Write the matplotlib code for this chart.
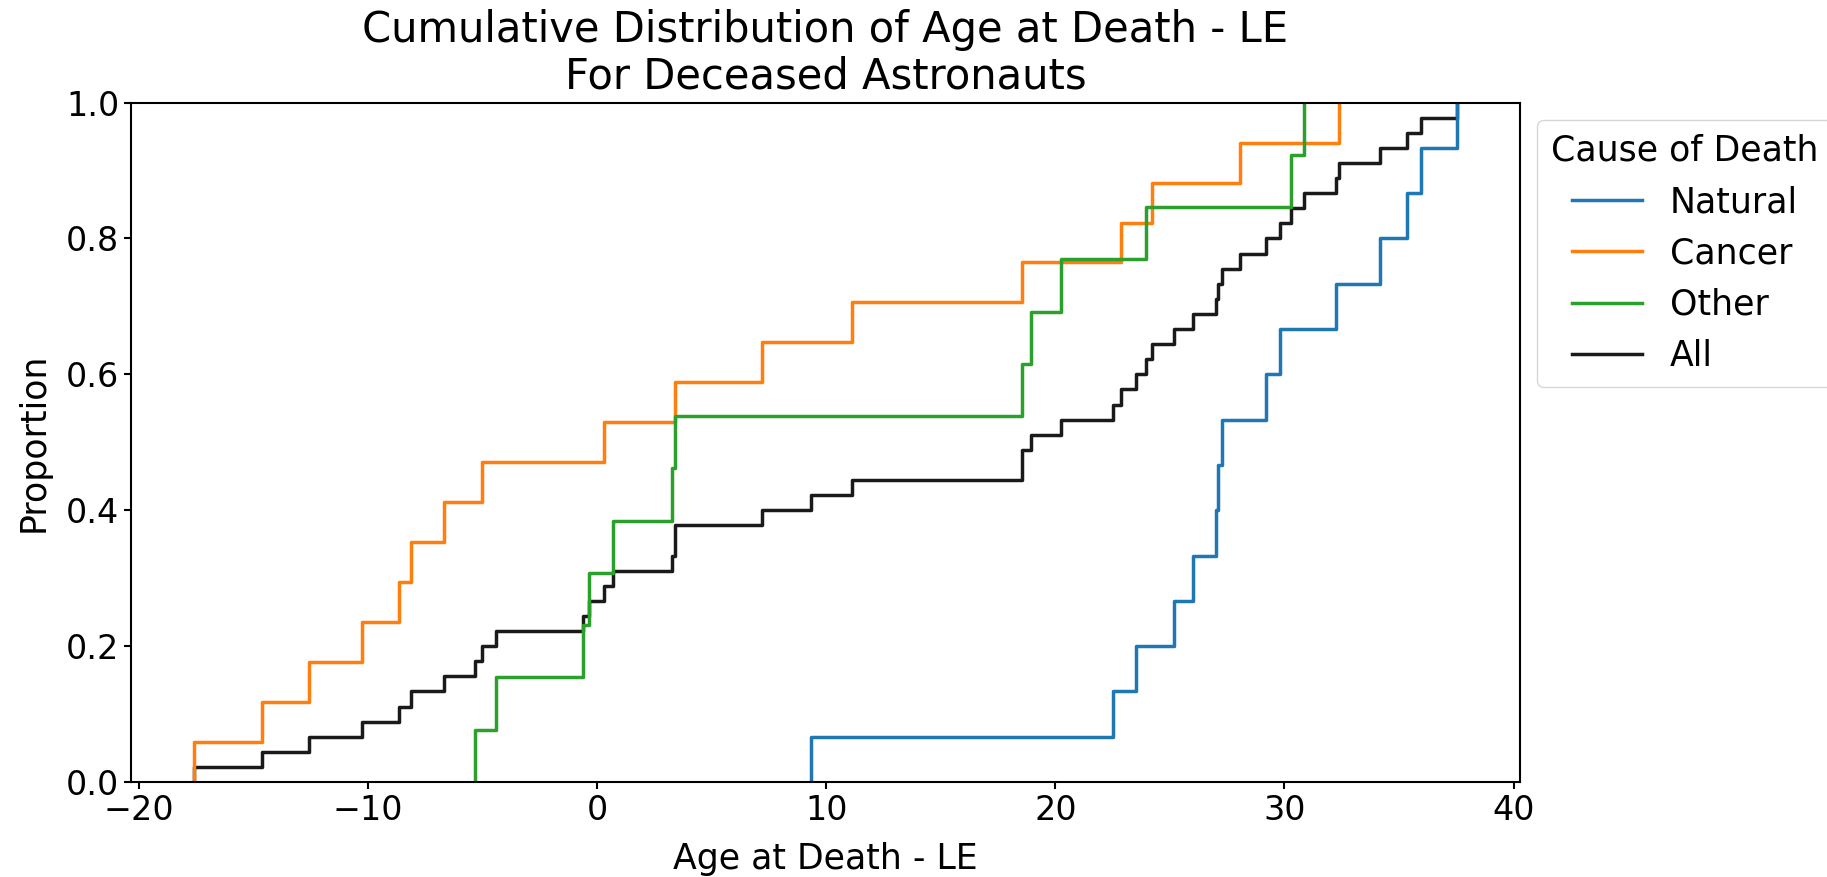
import numpy as np
import matplotlib.pyplot as plt

# age at death minus life expectancy, by cause of death
natural = [9.32, 22.52, 23.53, 25.18, 26.01, 27.00, 27.10, 27.27, 29.18,
           29.79, 32.26, 34.18, 35.36, 35.94, 37.53]
cancer = [-17.60, -14.65, -12.59, -10.26, -8.65, -8.14, -6.70, -5.03, 0.28,
          3.40, 7.21, 11.12, 18.54, 22.86, 24.23, 28.04, 32.38]
other = [-5.32, -4.40, -0.64, -0.38, 0.70, 3.28, 3.40, 18.54, 18.92, 20.25,
         23.95, 30.27, 30.84]

causes = ["Natural", "Cancer", "Other"]
colors = ["#1f77b4", "#ff7f0e", "#2ca02c"]


def main():
    plt.rcParams["axes.linewidth"] = 1.5
    plt.rcParams["xtick.major.width"] = 1.5
    plt.rcParams["ytick.major.width"] = 1.5
    plt.rcParams["xtick.major.size"] = 5
    plt.rcParams["ytick.major.size"] = 5

    fig = plt.figure(figsize=(18.27, 8.77), dpi=100)
    ax = fig.add_axes([0.0717, 0.1083, 0.7603, 0.7747])

    handles = []
    for name, vals, c in zip(causes, [natural, cancer, other], colors):
        h = ax.ecdf(np.array(vals), color=c, lw=2.5, label=name, zorder=2.1)
        handles.append(h)

    # all causes together, drawn underneath
    everyone = np.concatenate([natural, cancer, other])
    h_all = ax.ecdf(everyone, color="#1a1a1a", lw=2.5, label="All", zorder=2)
    handles.append(h_all)

    ax.set_ylim(0, 1)
    ax.set_title("Cumulative Distribution of Age at Death - LE\nFor Deceased Astronauts",
                 fontsize=30, linespacing=1.15, pad=10)
    ax.set_xlabel("Age at Death - LE", fontsize=25, labelpad=11)
    ax.set_ylabel("Proportion", fontsize=25, labelpad=11)
    ax.tick_params(labelsize=24)

    ax.legend(handles=handles, title="Cause of Death", loc="upper left",
              bbox_to_anchor=(1, 1), fontsize=25, title_fontsize=25)

    fig.savefig("out.png", dpi=100)


if __name__ == "__main__":
    main()
